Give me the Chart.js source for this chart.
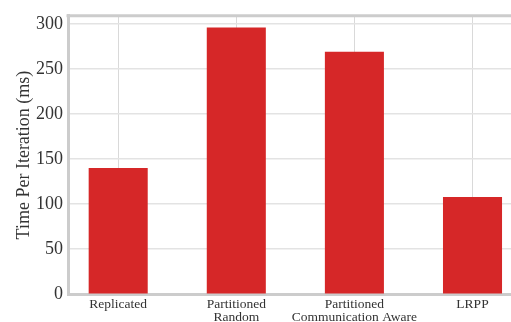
<!DOCTYPE html>
<html>
<head>
<meta charset="utf-8">
<script src="https://cdn.jsdelivr.net/npm/chart.js@4/dist/chart.umd.min.js"></script>
<style>
  html, body { margin: 0; padding: 0; background: #fff; overflow: hidden; width: 511px; height: 322px; }
</style>
</head>
<body>
<canvas id="chart" width="524" height="322"></canvas>
<script>
// Данные графика
const categories = ['Replicated', 'Partitioned\nRandom', 'Partitioned\nCommunication Aware', 'LRPP'];
const timeValues = [140, 296, 269, 108];
const yTicks = [0, 50, 100, 150, 200, 250, 300];

const serif = "'Liberation Serif', 'Times New Roman', serif";
const textColor = '#333333';
const frameColor = '#cccccc';

// Верхняя рамка области графика
const topFrame = {
    id: 'topFrame',
    beforeDatasetsDraw(chart) {
        const { ctx, chartArea } = chart;
        ctx.save();
        ctx.strokeStyle = frameColor;
        ctx.lineWidth = 3;
        ctx.beginPath();
        ctx.moveTo(chartArea.left - 1.5, chartArea.top);
        ctx.lineTo(chartArea.right, chartArea.top);
        ctx.stroke();
        ctx.restore();
    }
};

const ctx = document.getElementById('chart').getContext('2d');

new Chart(ctx, {
    type: 'bar',
    data: {
        datasets: [{
            data: timeValues.map((v, i) => ({ x: i, y: v })),
            backgroundColor: '#d62728',
            borderWidth: 0,
            categoryPercentage: 1,
            barPercentage: 0.5
        }]
    },
    options: {
        responsive: false,
        animation: false,
        layout: { padding: { top: 15.5, right: 0, bottom: 0, left: 0 } },
        plugins: {
            legend: { display: false },
            tooltip: { enabled: false }
        },
        scales: {
            x: {
                type: 'linear',
                position: 'bottom',
                offset: false,
                min: -0.425,
                max: 3.436,
                afterBuildTicks: function(scale) {
                    scale.ticks = categories.map((c, i) => ({ value: i }));
                },
                afterFit: function(scale) { scale.height = 27.7; },
                grid: {
                    offset: false,
                    color: '#d9d9d9',
                    lineWidth: 1,
                    drawTicks: false
                },
                border: { display: true, color: frameColor, width: 3 },
                ticks: {
                    padding: 3,
                    autoSkip: false,
                    maxRotation: 0,
                    color: textColor,
                    font: { family: serif, size: 13.5, lineHeight: 1 },
                    callback: function(value) {
                        const label = categories[value];
                        return label ? label.split('\n') : '';
                    }
                }
            },
            y: {
                min: 0,
                max: 309,
                afterBuildTicks: function(scale) {
                    scale.ticks = yTicks.map(v => ({ value: v }));
                },
                afterFit: function(scale) { scale.width = 68; },
                grid: {
                    color: '#e3e3e3',
                    lineWidth: 1.5,
                    drawTicks: false
                },
                border: { display: true, color: frameColor, width: 3 },
                ticks: {
                    padding: 5,
                    color: textColor,
                    font: { family: serif, size: 18 }
                },
                title: {
                    display: true,
                    text: 'Time Per Iteration (ms)',
                    color: textColor,
                    font: { family: serif, size: 18 },
                    padding: { top: 13, bottom: 0 }
                }
            }
        }
    },
    plugins: [topFrame]
});
</script>
</body>
</html>
